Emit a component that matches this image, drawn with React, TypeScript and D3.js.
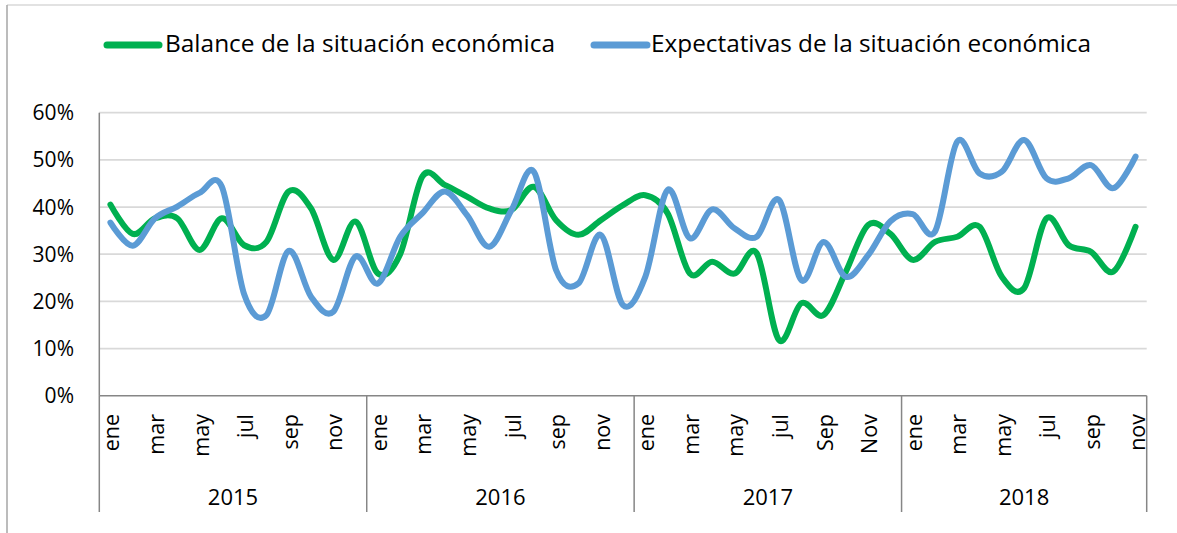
import React from 'react';
import * as d3 from 'd3';

// monthly series, % (ene 2015 .. nov 2018)
const years = ['2015', '2016', '2017', '2018'];
const monthsByYear = [
  ['ene', 'feb', 'mar', 'abr', 'may', 'jun', 'jul', 'ago', 'sep', 'oct', 'nov', 'dic'],
  ['ene', 'feb', 'mar', 'abr', 'may', 'jun', 'jul', 'ago', 'sep', 'oct', 'nov', 'dic'],
  ['ene', 'feb', 'mar', 'abr', 'may', 'jun', 'jul', 'ago', 'Sep', 'oct', 'Nov', 'dic'],
  ['ene', 'feb', 'mar', 'abr', 'may', 'jun', 'jul', 'ago', 'sep', 'oct', 'nov'],
];

const balance = [
  40.5, 34.3, 37.6, 37.6, 30.9, 37.6, 31.9, 32.6, 43.3, 39.7, 28.8, 36.9,
  25.9, 30.0, 46.5, 44.7, 42.2, 39.7, 39.4, 44.3, 37.2, 34.1, 37.2, 40.4,
  42.5, 38.7, 25.9, 28.4, 25.9, 30.2, 11.8, 19.6, 17.1, 26.3, 36.2, 34.3,
  28.8, 32.6, 33.7, 35.8, 25.2, 22.8, 37.6, 31.9, 30.5, 26.3, 35.8,
];

const expectativas = [
  36.7, 31.8, 37.6, 40.1, 43.0, 44.3, 21.5, 17.1, 30.7, 21.0, 17.8, 29.5,
  23.8, 33.7, 38.7, 43.3, 38.3, 31.6, 39.4, 47.5, 26.6, 23.8, 34.1, 19.2,
  25.2, 43.6, 33.4, 39.5, 35.5, 33.7, 41.5, 24.5, 32.6, 25.2, 29.8, 37.0,
  38.5, 34.8, 53.9, 47.1, 47.5, 54.2, 46.1, 46.1, 48.9, 44.0, 50.7,
];

const yTicks = [0, 10, 20, 30, 40, 50, 60];

const seriesNames = ['Balance de la situación económica', 'Expectativas de la situación económica'];
const colors = ['#00B050', '#5B9BD5'];

const W = 1177;
const H = 533;
const left = 99.3;
const right = 1146.7;
const top = 112.7;
const bottom = 395.7;
const groupBottom = 512;
const font = '"Open Sans", Lato, sans-serif';

export default function App() {
  const cats: { year: string; month: string; idx: number }[] = [];
  monthsByYear.forEach((ms, yi) =>
    ms.forEach((m, mi) => cats.push({ year: years[yi], month: m, idx: mi })),
  );

  const x = d3
    .scaleBand<number>()
    .domain(cats.map((_, i) => i))
    .range([left, right]);
  const cx = (i: number) => (x(i) as number) + x.bandwidth() / 2;
  const y = d3.scaleLinear().domain([0, 60]).range([bottom, top]);

  const line = d3
    .line<number>()
    .x((_, i) => cx(i))
    .y((d) => y(d))
    .curve(d3.curveCardinal);

  // year group boundaries
  const bounds: number[] = [left];
  let acc = 0;
  monthsByYear.forEach((ms) => {
    acc += ms.length;
    bounds.push(acc < cats.length ? (x(acc) as number) : right);
  });

  return (
    <svg
      width={W}
      height={H}
      style={{ position: 'absolute', left: 0, top: 0, display: 'block', background: '#fff' }}
      fontFamily={font}
    >
      <line x1={7} x2={W} y1={5} y2={5} stroke="#d9d9d9" strokeWidth={1.5} />
      <line x1={7} x2={7} y1={5} y2={H} stroke="#a6a6a6" strokeWidth={1.5} />

      {/* legend */}
      <g>
        <line x1={107} x2={159} y1={45} y2={45} stroke={colors[0]} strokeWidth={7} strokeLinecap="round" />
        <text x={165} y={52} fontSize={23} fill="#000" textLength={390} lengthAdjust="spacingAndGlyphs">
          {seriesNames[0]}
        </text>
        <line x1={594} x2={647} y1={45} y2={45} stroke={colors[1]} strokeWidth={7} strokeLinecap="round" />
        <text x={651} y={52} fontSize={23} fill="#000" textLength={440} lengthAdjust="spacingAndGlyphs">
          {seriesNames[1]}
        </text>
      </g>

      {/* grid + y labels */}
      {yTicks.map((t) => (
        <g key={t}>
          {t > 0 && (
            <line x1={left} x2={right} y1={y(t)} y2={y(t)} stroke="#d9d9d9" strokeWidth={1.8} />
          )}
          <text x={74} y={y(t)} dy="0.36em" textAnchor="end" fontSize={21} fill="#000">
            {t}%
          </text>
        </g>
      ))}

      {/* axes */}
      <line x1={left} x2={left} y1={top} y2={bottom} stroke="#868686" strokeWidth={1.5} />
      <line x1={left} x2={right} y1={bottom} y2={bottom} stroke="#868686" strokeWidth={1.5} />
      {bounds.map((b, i) => (
        <line key={i} x1={b} x2={b} y1={bottom} y2={groupBottom} stroke="#868686" strokeWidth={1.5} />
      ))}

      {/* month labels */}
      {cats.map((c, i) =>
        c.idx % 2 === 0 ? (
          <text
            key={i}
            transform={`translate(${cx(i)},414) rotate(-90)`}
            textAnchor="end"
            dy="0.42em"
            fontSize={21.5}
            fill="#000"
          >
            {c.month}
          </text>
        ) : null,
      )}

      {/* year labels */}
      {years.map((yr, i) => (
        <text
          key={yr}
          x={(bounds[i] + bounds[i + 1]) / 2}
          y={497}
          dy="0.36em"
          textAnchor="middle"
          fontSize={22}
          fill="#000"
        >
          {yr}
        </text>
      ))}

      {/* series */}
      <path d={line(balance) || ''} fill="none" stroke={colors[0]} strokeWidth={6} strokeLinejoin="round" strokeLinecap="round" />
      <path d={line(expectativas) || ''} fill="none" stroke={colors[1]} strokeWidth={6} strokeLinejoin="round" strokeLinecap="round" />
    </svg>
  );
}
